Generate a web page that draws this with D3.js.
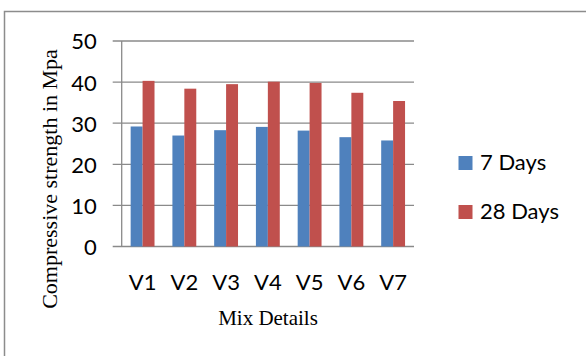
<!DOCTYPE html>
<html>
<head>
<meta charset="utf-8">
<script src="https://cdn.jsdelivr.net/npm/d3@7"></script>
<style>
  html, body { margin: 0; padding: 0; background: #fff; }
  svg { display: block; }
</style>
</head>
<body>
<svg id="chart" width="586" height="356"></svg>
<script>
// Mix designs and their compressive strength (MPa)
const categories = ["V1", "V2", "V3", "V4", "V5", "V6", "V7"];
const seriesNames = ["7 Days", "28 Days"];
const sevenDays = [29.2, 27.0, 28.3, 29.1, 28.2, 26.6, 25.8];
const twentyEightDays = [40.3, 38.4, 39.5, 40.1, 39.8, 37.4, 35.4];
const yTicks = [0, 10, 20, 30, 40, 50];
const colors = ["#4F81BD", "#C0504D"];

const svg = d3.select("#chart");
const tickFont = "Lato, 'Open Sans', sans-serif";
const serifFont = "'Liberation Serif', 'Times New Roman', serif";
const gridColor = "#8a8a8a";

// Chart frame
svg.append("rect")
  .attr("x", 4.5).attr("y", 11.5)
  .attr("width", 620).attr("height", 420)
  .attr("fill", "none").attr("stroke", "#8c8c8c").attr("stroke-width", 1.5);

const plot = { left: 121.7, right: 414, top: 41, bottom: 246.5 };

const x0 = d3.scaleBand().domain(categories).range([plot.left, plot.right]).padding(0);
const x1 = d3.scaleBand().domain(seriesNames).range([0, x0.bandwidth()])
  .paddingInner(0).paddingOuter(0.75);
const y = d3.scaleLinear().domain([0, 50]).range([plot.bottom, plot.top]);

// Horizontal gridlines
svg.append("g").selectAll("line").data(yTicks).join("line")
  .attr("x1", plot.left - 9).attr("x2", plot.right)
  .attr("y1", d => y(d)).attr("y2", d => y(d))
  .attr("stroke", gridColor).attr("stroke-width", 1.3);

// Value axis line
svg.append("line")
  .attr("x1", plot.left).attr("x2", plot.left)
  .attr("y1", y(50)).attr("y2", y(0))
  .attr("stroke", gridColor).attr("stroke-width", 1.3);

// Value axis labels
const yAxis = d3.axisLeft(y).tickValues(yTicks).tickSize(0).tickPadding(0).tickFormat(d3.format("d"));
const yg = svg.append("g").attr("transform", `translate(${plot.left - 25},0)`).call(yAxis);
yg.select(".domain").remove();
yg.selectAll("text")
  .attr("font-family", tickFont).attr("font-size", 22).attr("fill", "#000")
  .attr("dy", "0.36em");

// Bars
const rows = categories.map((c, i) => ({ cat: c, values: [sevenDays[i], twentyEightDays[i]] }));
const groups = svg.append("g").selectAll("g").data(rows).join("g")
  .attr("transform", d => `translate(${x0(d.cat)},0)`);
groups.selectAll("rect")
  .data(d => d.values.map((v, k) => ({ name: seriesNames[k], v, k })))
  .join("rect")
  .attr("x", d => x1(d.name))
  .attr("width", x1.bandwidth())
  .attr("y", d => y(d.v))
  .attr("height", d => y(0) - y(d.v))
  .attr("fill", d => colors[d.k]);

// Category axis labels
const xAxis = d3.axisBottom(x0).tickSize(0).tickPadding(0);
const xg = svg.append("g").attr("transform", `translate(0,${plot.bottom})`).call(xAxis);
xg.select(".domain").remove();
xg.selectAll("text")
  .attr("font-family", tickFont).attr("font-size", 22).attr("fill", "#000")
  .attr("y", 43).attr("dy", 0);

// Axis titles
svg.append("text")
  .attr("x", 268).attr("y", 325)
  .attr("text-anchor", "middle")
  .attr("font-family", serifFont).attr("font-size", 21).attr("fill", "#000")
  .text("Mix Details");

svg.append("text")
  .attr("transform", "translate(57,179) rotate(-90)")
  .attr("text-anchor", "middle")
  .attr("font-family", serifFont).attr("font-size", 22).attr("fill", "#000")
  .text("Compressive strength in Mpa");

// Legend
const legend = svg.append("g").selectAll("g").data(seriesNames).join("g")
  .attr("transform", (d, i) => `translate(458.5,${156 + i * 49})`);
legend.append("rect")
  .attr("width", 14).attr("height", 14)
  .attr("fill", (d, i) => colors[i]);
legend.append("text")
  .attr("x", 21.5).attr("y", 14)
  .attr("font-family", tickFont).attr("font-size", 22).attr("fill", "#000")
  .text(d => d);
</script>
</body>
</html>
